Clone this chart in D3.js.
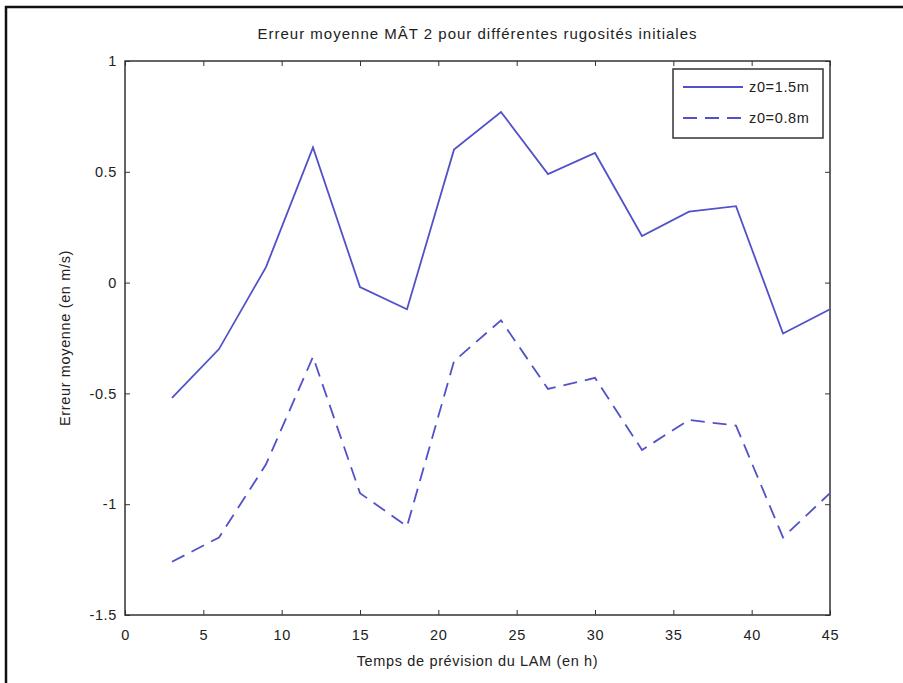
<!DOCTYPE html>
<html>
<head>
<meta charset="utf-8">
<script src="https://cdn.jsdelivr.net/npm/d3@7"></script>
<style>
  html, body { margin: 0; padding: 0; background: #fff; }
  svg { display: block; }
  text { font-family: "Liberation Sans", Arial, sans-serif; fill: #222; }
</style>
</head>
<body>
<svg id="chart" width="903" height="683"></svg>
<script>
// Forecast lead time (h)
const leadTimes = [3, 6, 9, 12, 15, 18, 21, 24, 27, 30, 33, 36, 39, 42, 45];
// Mean error (m/s) for two initial roughness lengths
const errZ15 = [-0.52, -0.30, 0.07, 0.61, -0.02, -0.12, 0.60, 0.77, 0.49, 0.585, 0.21, 0.32, 0.345, -0.23, -0.12];
const errZ08 = [-1.26, -1.15, -0.82, -0.335, -0.95, -1.10, -0.355, -0.17, -0.48, -0.43, -0.755, -0.62, -0.645, -1.15, -0.95];
const seriesNames = ["z0=1.5m", "z0=0.8m"];
const xTicks = [0, 5, 10, 15, 20, 25, 30, 35, 40, 45];
const yTicks = [-1.5, -1, -0.5, 0, 0.5, 1];

const titleText = "Erreur moyenne MÂT 2 pour différentes rugosités initiales";
const xLabel = "Temps de prévision du LAM (en h)";
const yLabel = "Erreur moyenne (en m/s)";

const svg = d3.select("#chart");
const lineColor = "#5252c8";
const axisColor = "#333";
const fontSize = 14.5;
const spacing = 0.65;

// Outer frame
svg.append("rect")
  .attr("x", 6).attr("y", 7).attr("width", 1000).attr("height", 1000)
  .attr("fill", "none").attr("stroke", "#111").attr("stroke-width", 2.5);

const plot = { left: 125, right: 830, top: 61, bottom: 615 };

const x = d3.scaleLinear().domain([0, 45]).range([plot.left, plot.right]);
const y = d3.scaleLinear().domain([-1.5, 1]).range([plot.bottom, plot.top]);

const fmt = d => String(d);

// Axes with inward ticks on all four sides
const tickLen = 5;
svg.append("g").attr("transform", `translate(0,${plot.bottom})`)
  .call(d3.axisBottom(x).tickValues(xTicks).tickFormat(fmt).tickSizeInner(-tickLen).tickSizeOuter(0).tickPadding(15));
svg.append("g").attr("transform", `translate(0,${plot.top})`)
  .call(d3.axisTop(x).tickValues(xTicks).tickFormat("").tickSizeInner(-tickLen).tickSizeOuter(0));
svg.append("g").attr("transform", `translate(${plot.left},0)`)
  .call(d3.axisLeft(y).tickValues(yTicks).tickFormat(fmt).tickSizeInner(-tickLen).tickSizeOuter(0).tickPadding(8));
svg.append("g").attr("transform", `translate(${plot.right},0)`)
  .call(d3.axisRight(y).tickValues(yTicks).tickFormat("").tickSizeInner(-tickLen).tickSizeOuter(0));

svg.selectAll(".domain").remove();
svg.selectAll(".tick line").attr("stroke", axisColor).attr("stroke-width", 1);
svg.selectAll(".tick text").attr("font-size", fontSize).attr("fill", "#222")
  .attr("letter-spacing", spacing)
  .style("font-family", "'Liberation Sans', Arial, sans-serif");

// Axes box
svg.append("rect")
  .attr("x", plot.left).attr("y", plot.top)
  .attr("width", plot.right - plot.left).attr("height", plot.bottom - plot.top)
  .attr("fill", "none").attr("stroke", axisColor).attr("stroke-width", 1.5);

// Series lines
const line = d3.line().x(d => x(d[0])).y(d => y(d[1]));
const s1 = leadTimes.map((t, i) => [t, errZ15[i]]);
const s2 = leadTimes.map((t, i) => [t, errZ08[i]]);

svg.append("path").datum(s1).attr("d", line)
  .attr("fill", "none").attr("stroke", lineColor).attr("stroke-width", 1.8);
svg.append("path").datum(s2).attr("d", line)
  .attr("fill", "none").attr("stroke", lineColor).attr("stroke-width", 1.8)
  .attr("stroke-dasharray", "14,8");

// Title and axis labels
svg.append("text").attr("x", (plot.left + plot.right) / 2).attr("y", 38.5)
  .attr("text-anchor", "middle").attr("font-size", 15).attr("letter-spacing", 1.0).text(titleText);
svg.append("text").attr("x", (plot.left + plot.right) / 2).attr("y", 666)
  .attr("text-anchor", "middle").attr("font-size", fontSize).attr("letter-spacing", spacing).text(xLabel);
svg.append("text")
  .attr("transform", `translate(70,${(plot.top + plot.bottom) / 2}) rotate(-90)`)
  .attr("text-anchor", "middle").attr("font-size", fontSize).attr("letter-spacing", spacing).text(yLabel);

// Legend
const lg = svg.append("g");
lg.append("rect").attr("x", 673).attr("y", 69).attr("width", 150).attr("height", 69)
  .attr("fill", "#fff").attr("stroke", axisColor).attr("stroke-width", 1.5);
const rows = [{ name: seriesNames[0], dash: null, yy: 87 }, { name: seriesNames[1], dash: "14,8", yy: 118 }];
rows.forEach(r => {
  const l = lg.append("line").attr("x1", 683).attr("x2", 743).attr("y1", r.yy).attr("y2", r.yy)
    .attr("stroke", lineColor).attr("stroke-width", 1.8);
  if (r.dash) l.attr("stroke-dasharray", r.dash);
  lg.append("text").attr("x", 749).attr("y", r.yy + 5).attr("font-size", fontSize)
    .attr("letter-spacing", spacing).text(r.name);
});
</script>
</body>
</html>
